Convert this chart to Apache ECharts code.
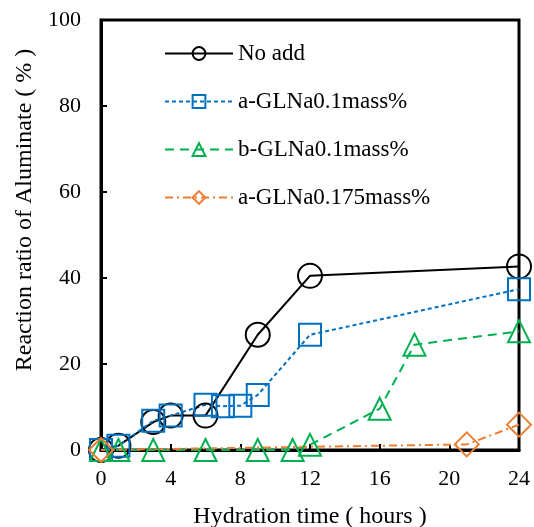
<!DOCTYPE html>
<html><head><meta charset="utf-8">
<script src="https://cdn.jsdelivr.net/npm/echarts@6/dist/echarts.min.js"></script>
<style>html,body{margin:0;padding:0;background:#fff}#c{width:534px;height:527px}</style>
</head><body><div id="c"></div>
<script>
const xTicks = [0, 4, 8, 12, 16, 20, 24];
const yTicks = [0, 20, 40, 60, 80, 100];
const seriesNames = ['No add', 'a-GLNa0.1mass%', 'b-GLNa0.1mass%', 'a-GLNa0.175mass%'];
const noAddX = [0, 1, 3, 4, 6, 9, 12, 24];
const noAddY = [0, 1, 6.5, 8, 8, 26.8, 40.5, 42.7];
const aGL01X = [0, 1, 3, 4, 6, 7, 8, 9, 12, 24];
const aGL01Y = [0, 1, 6.8, 8, 10.5, 10.2, 10.3, 12.8, 26.8, 37.4];
const bGL01X = [0, 1, 3, 6, 9, 11, 12, 16, 18, 24];
const bGL01Y = [0, 0, 0, 0, 0, 0, 1.2, 9.6, 24.5, 27.6];
const aGL0175X = [0, 21, 24];
const aGL0175Y = [0, 1.3, 5.9];

const font = 'Liberation Serif, Times New Roman, serif';
function pairs(xs, ys){ return xs.map((x,i)=>[x, ys[i]]); }
function mk(name, xs, ys, color, symbol, dash, size){
  return {
    name, type:'line', data: pairs(xs, ys), symbol, symbolSize: size,
    lineStyle:{color, width:2, type: dash},
    itemStyle:{color:'rgba(255,255,255,0)', borderColor:color, borderWidth:2},
    color: color,
    z: 2
  };
}
const chart = echarts.init(document.getElementById('c'), null, {renderer:'canvas'});
chart.setOption({
  animation:false,
  backgroundColor:'#fff',
  grid:{left:101, right:15, top:20, bottom:77, containLabel:false, outerBoundsMode:'none',
        show:true, borderColor:'#000', borderWidth:3, backgroundColor:'transparent'},
  legend:{
    orient:'vertical', left:159, top:37, itemGap:25, itemWidth:68, itemHeight:16,
    data: seriesNames,
    textStyle:{fontFamily:font, fontSize:23, color:'#000'}
  },
  xAxis:{
    type:'value', min:0, max:24, interval:4,
    name:'Hydration time ( hours )', nameLocation:'middle', nameGap:55,
    nameTextStyle:{fontFamily:font, fontSize:24, color:'#000'},
    axisLine:{show:true, lineStyle:{color:'#000', width:3}},
    axisTick:{show:true, inside:true, length:6, lineStyle:{color:'#000', width:2}},
    axisLabel:{fontFamily:font, fontSize:22, color:'#000', margin:18},
    splitLine:{show:false}
  },
  yAxis:{
    type:'value', min:0, max:100, interval:20,
    name:'Reaction ratio of Aluminate ( % )', nameLocation:'middle', nameGap:62,
    nameTextStyle:{fontFamily:font, fontSize:24, color:'#000', padding:[0,0,0,50]},
    axisLine:{show:true, lineStyle:{color:'#000', width:3}},
    axisTick:{show:true, inside:true, length:6, lineStyle:{color:'#000', width:2}},
    axisLabel:{fontFamily:font, fontSize:22, color:'#000', margin:20},
    splitLine:{show:false}
  },
  series:[
    mk(seriesNames[0], noAddX, noAddY, '#000000', 'circle', 'solid', 24),
    mk(seriesNames[1], aGL01X, aGL01Y, '#0070C0', 'rect', [4,3], 22),
    mk(seriesNames[2], bGL01X, bGL01Y, '#00B050', 'triangle', [9,6], 22),
    mk(seriesNames[3], aGL0175X, aGL0175Y, '#ED7D31', 'diamond', [8,4,2,4], 24)
  ]
});
</script></body></html>
